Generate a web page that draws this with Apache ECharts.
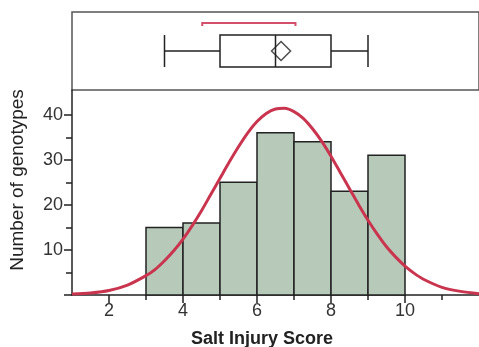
<!DOCTYPE html>
<html>
<head>
<meta charset="utf-8">
<script src="https://cdn.jsdelivr.net/npm/echarts@6/dist/echarts.min.js"></script>
<style>
  html, body { margin: 0; padding: 0; background: #fff; }
  #chart { width: 479px; height: 347px; }
</style>
</head>
<body>
<div id="chart"></div>
<script>
// histogram bins (salt injury score) and counts
const binStart = [3, 4, 5, 6, 7, 8, 9];
const binEnd = [4, 5, 6, 7, 8, 9, 10];
const counts = [15, 16, 25, 36, 34, 23, 31];

// fitted normal curve
const curveX = [1, 1.5, 2, 2.5, 3, 3.25, 3.5, 3.75, 4, 4.25, 4.5, 4.75, 5, 5.25, 5.5, 5.75, 6, 6.25, 6.5, 6.75,
  7, 7.25, 7.5, 7.75, 8, 8.25, 8.5, 8.75, 9, 9.25, 9.5, 9.75, 10, 10.25, 10.5, 11, 11.5, 12];
const curveY = [0.2, 0.45, 1.0, 2.2, 4.3, 5.7, 7.6, 9.8, 12.4, 15.4, 18.7, 22.3, 25.9, 29.5, 32.9, 36.0, 38.5, 40.3, 41.3, 41.45,
  40.7, 39.2, 36.9, 34.1, 30.8, 27.2, 23.6, 20.0, 16.6, 13.5, 10.7, 8.4, 6.4, 4.8, 3.5, 1.7, 0.8, 0.3];

// outlier box plot: min, q1, median, q3, max
const boxStats = [3.5, 5, 6.5, 8, 9];
const meanValue = 6.65;
const shortestHalf = [4.52, 7.04];

// ticks and labels
const xLabels = [2, 4, 6, 8, 10];
const xMinorTicks = [3, 5, 7, 9, 11];
const yLabels = [10, 20, 30, 40];
const yMajorTicks = [0, 10, 20, 30, 40];
const yMinorTicks = [5, 15, 25, 35];

const font = 'Liberation Sans, Arial, sans-serif';
const ink = '#222';

const chart = echarts.init(document.getElementById('chart'));

const histData = binStart.map((s, i) => [s, binEnd[i], counts[i]]);
const curveData = curveX.map((x, i) => [x, curveY[i]]);

const option = {
  animation: false,
  grid: [
    { left: 72, top: 12, width: 407, height: 78, show: true, borderColor: '#555', borderWidth: 1.5, backgroundColor: '#fff' },
    { left: 72, top: 90, width: 407, height: 205 }
  ],
  xAxis: [
    { type: 'value', gridIndex: 0, min: 1, max: 12, show: false },
    {
      type: 'value', gridIndex: 1, min: 1, max: 12, interval: 1,
      splitLine: { show: false },
      axisLine: { lineStyle: { color: ink, width: 1.5 } },
      axisTick: { length: 8, lineStyle: { color: ink, width: 1.5 }, customValues: xLabels },
      axisLabel: { customValues: xLabels, color: '#333', fontFamily: font, fontSize: 18, margin: 7 }
    },
    {
      type: 'value', gridIndex: 1, min: 1, max: 12, position: 'bottom',
      splitLine: { show: false },
      axisLine: { show: false },
      axisTick: { length: 5, lineStyle: { color: ink, width: 1.5 }, customValues: xMinorTicks },
      axisLabel: { show: false }
    }
  ],
  yAxis: [
    { type: 'category', gridIndex: 0, data: ['box'], show: false },
    {
      type: 'value', gridIndex: 1, min: 0, max: 45.5, interval: 10,
      splitLine: { show: false },
      axisLine: { show: true, lineStyle: { color: ink, width: 1.5 } },
      axisTick: { show: true, length: 8, lineStyle: { color: ink, width: 1.5 }, customValues: yMajorTicks },
      axisLabel: { customValues: yLabels, color: '#333', fontFamily: font, fontSize: 18, margin: 9 }
    },
    {
      type: 'value', gridIndex: 1, min: 0, max: 45.5, position: 'left',
      splitLine: { show: false },
      axisLine: { show: false },
      axisTick: { show: true, length: 6, lineStyle: { color: ink, width: 1.5 }, customValues: yMinorTicks },
      axisLabel: { show: false }
    }
  ],
  series: [
    {
      type: 'boxplot', xAxisIndex: 0, yAxisIndex: 0,
      data: [boxStats],
      boxWidth: [32, 32],
      itemStyle: { color: '#fff', borderColor: ink, borderWidth: 1.5 },
      emphasis: { disabled: true }
    },
    {
      type: 'scatter', xAxisIndex: 0, yAxisIndex: 0,
      data: [[meanValue, 0]],
      symbol: 'diamond', symbolSize: [19, 19],
      itemStyle: { color: 'rgba(0,0,0,0)', borderColor: ink, borderWidth: 1.5 },
      z: 5
    },
    {
      type: 'custom', xAxisIndex: 0, yAxisIndex: 0,
      data: [[shortestHalf[0], shortestHalf[1], 0]],
      encode: { x: [0, 1], y: 2 },
      renderItem: function (params, api) {
        const a = api.coord([api.value(0), 0]);
        const b = api.coord([api.value(1), 0]);
        const y = a[1] - 28;
        return {
          type: 'polyline',
          shape: { points: [[a[0], y + 3], [a[0], y], [b[0], y], [b[0], y + 3]] },
          style: { stroke: '#d4506a', lineWidth: 2, fill: null }
        };
      }
    },
    {
      type: 'custom', xAxisIndex: 1, yAxisIndex: 1,
      data: histData,
      encode: { x: [0, 1], y: 2 },
      renderItem: function (params, api) {
        const p0 = api.coord([api.value(0), 0]);
        const p1 = api.coord([api.value(1), api.value(2)]);
        return {
          type: 'rect',
          shape: { x: p0[0], y: p1[1], width: p1[0] - p0[0], height: p0[1] - p1[1] },
          style: { fill: '#b7c9b8', stroke: ink, lineWidth: 1.5 }
        };
      }
    },
    {
      type: 'line', xAxisIndex: 1, yAxisIndex: 1,
      data: curveData,
      smooth: 0.3,
      showSymbol: false,
      lineStyle: { color: '#c9354f', width: 3 },
      z: 4
    }
  ],
  graphic: [
    {
      type: 'text', x: 18, y: 180, rotation: Math.PI / 2,
      style: { text: 'Number of genotypes', font: '19px ' + font, fill: ink, textAlign: 'center', textVerticalAlign: 'middle' }
    },
    {
      type: 'text', x: 262, y: 339,
      style: { text: 'Salt Injury Score', font: 'bold 18px ' + font, fill: ink, textAlign: 'center', textVerticalAlign: 'middle' }
    }
  ]
};

chart.setOption(option);
</script>
</body>
</html>
